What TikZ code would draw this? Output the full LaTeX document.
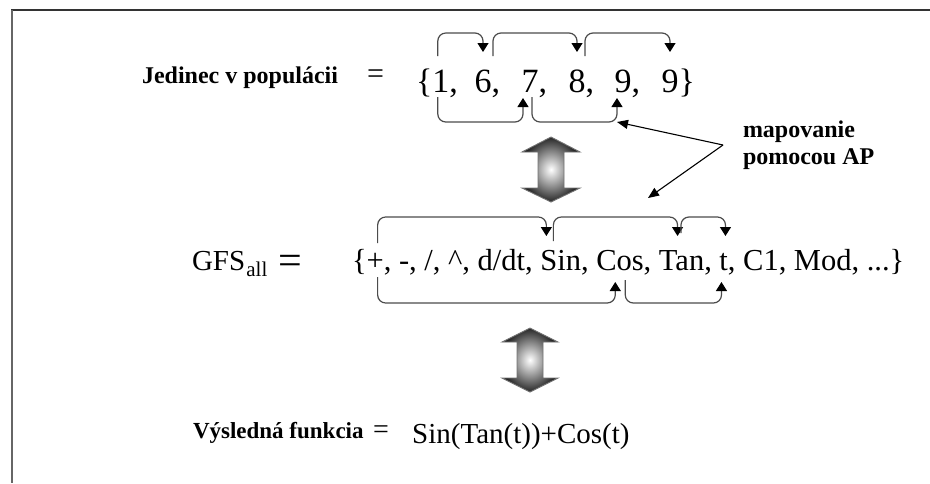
\documentclass[tikz,border=0pt]{standalone}
\usepackage{fontspec}
\setmainfont{Liberation Serif}
\usetikzlibrary{arrows.meta,calc}
\newcommand\fsz[1]{\fontsize{#1}{#1}\selectfont}
\begin{document}
\begin{tikzpicture}[x=1pt,y=-1pt,
  lbl/.style={inner sep=0pt, outer sep=0pt, anchor=base west, font=\fsz{24}\bfseries},
  dig/.style={inner sep=0pt, outer sep=0pt, anchor=base west, font=\fsz{34}},
  gfs/.style={inner sep=0pt, outer sep=0pt, anchor=base west, font=\fsz{30.5}},
  eqs/.style={inner sep=0pt, outer sep=0pt, anchor=base west},
  conn/.style={draw=black!70, line width=1.2pt, rounded corners=8pt,
    -{Triangle[width=11pt,length=9pt,black]}},
  maparrow/.style={draw=black, line width=1.1pt, -{Triangle[width=9pt,length=11pt]}},
  dbl/.style={draw=black!55, line width=0.9pt, inner color=white, outer color=black!85}
]
\useasboundingbox (0,0) rectangle (930,483);
\fill[white] (0,0) rectangle (930,483);
% frame
\draw[black!80, line width=1.5pt] (11,10) -- (930,10);
\draw[black!60, line width=1.5pt] (12,10) -- (12,483);

% row 1
\node[lbl] (jed) at (142,83) {Jedinec v populácii};
\node[eqs, font=\fsz{30}] (eq1) at (367,83) {=};
\node[dig] (d1) at (416,92) {\{1,};
\node[dig] (d2) at (474.5,92) {6,};
\node[dig] (d3) at (521.5,92) {7,};
\node[dig] (d4) at (568.5,92) {8,};
\node[dig] (d5) at (614.5,92) {9,};
\node[dig] (d6) at (661.5,92) {9\}};

\draw[conn] ($(d1.base west)+(21.8,-36)$) |- ($(d2.base west)+(8.5,-59)$) -- ($(d2.base west)+(8.5,-40)$);
\draw[conn] ($(d2.base west)+(18.5,-36)$) |- ($(d4.base west)+(8.5,-59)$) -- ($(d4.base west)+(8.5,-40)$);
\draw[conn] ($(d4.base west)+(16.5,-36)$) |- ($(d6.base west)+(8.5,-59)$) -- ($(d6.base west)+(8.5,-40)$);
\draw[conn] ($(d1.base west)+(21.8,5)$) |- ($(d3.base west)+(1.5,30)$) -- ($(d3.base west)+(1.5,6)$);
\draw[conn] ($(d3.base west)+(10.5,5)$) |- ($(d5.base west)+(2.5,30)$) -- ($(d5.base west)+(2.5,6)$);

% mapping label
\node[lbl] (map1) at (743,137) {mapovanie};
\node[lbl] (map2) at (743,164) {pomocou AP};
\coordinate (mc) at (723,145);
\coordinate (mt1) at (617,122);
\coordinate (mt2) at (648,198);
\draw[maparrow] (mc) -- (mt1);
\draw[maparrow] (mc) -- (mt2);

% double arrow 1
\shade[dbl] (551,137) -- (580,152) -- (564,152) -- (564,188) -- (580,188) -- (551,202)
  -- (522,188) -- (538,188) -- (538,152) -- (522,152) -- cycle;

% row 2
\node[gfs, font=\fsz{29}] (gfsl) at (192,270) {GFS};
\node[inner sep=0pt, anchor=base west, font=\fsz{21}] (all) at ($(gfsl.base east)+(1,6)$) {all};
\node[eqs, font=\fsz{42}] (eq2) at (278,274) {=};
\node[gfs] (glb) at (352,270) {\{};
\node[gfs] (gp) at (glb.base east) {+,};
\node[gfs] (gm) at ($(gp.base east)+(7.6,0)$) {-,};
\node[gfs] (gsl) at ($(gm.base east)+(7.6,0)$) {/,};
\node[gfs] (gca) at ($(gsl.base east)+(7.6,0)$) {\textasciicircum,};
\node[gfs] (gd) at ($(gca.base east)+(7.6,0)$) {d/dt,};
\node[gfs] (gsin) at ($(gd.base east)+(7.6,0)$) {Sin,};
\node[gfs] (gcos) at ($(gsin.base east)+(7.6,0)$) {Cos,};
\node[gfs] (gtan) at ($(gcos.base east)+(7.6,0)$) {Tan,};
\node[gfs] (gt) at ($(gtan.base east)+(7.6,0)$) {t,};
\node[gfs] (gc1) at ($(gt.base east)+(7.6,0)$) {C1,};
\node[gfs] (gmod) at ($(gc1.base east)+(7.6,0)$) {Mod,};
\node[gfs] (gdots) at ($(gmod.base east)+(7.6,0)$) {...\}};

\draw[conn] ($(gp.base west)+(11,-27)$) |- ($(gsin.base west)+(6,-53)$) -- ($(gsin.base west)+(6,-34)$);
\draw[conn] ($(gsin.base west)+(13,-29)$) |- ($(gtan.base west)+(18.6,-53)$) -- ($(gtan.base west)+(18.6,-34)$);
\draw[conn] ($(gtan.base west)+(22,-37)$) |- ($(gt.base west)+(6,-53)$) -- ($(gt.base west)+(6,-34)$);
\draw[conn] ($(gp.base west)+(11,7)$) |- ($(gcos.base west)+(19,33)$) -- ($(gcos.base west)+(19,12)$);
\draw[conn] ($(gcos.base west)+(29,10)$) |- ($(gt.base west)+(2,33)$) -- ($(gt.base west)+(2,12)$);

% double arrow 2
\shade[dbl] (530,328) -- (558,342) -- (543,342) -- (543,378) -- (558,378) -- (530,392)
  -- (502,378) -- (517,378) -- (517,342) -- (502,342) -- cycle;

% row 3
\node[lbl, font=\fsz{23}\bfseries] (vys) at (193,438) {Výsledná funkcia};
\node[eqs, font=\fsz{28}] (eq3) at (373,438) {=};
\node[inner sep=0pt, anchor=base west, font=\fsz{29}] (res) at (412,443) {Sin(Tan(t))+Cos(t)};
\end{tikzpicture}
\end{document}
